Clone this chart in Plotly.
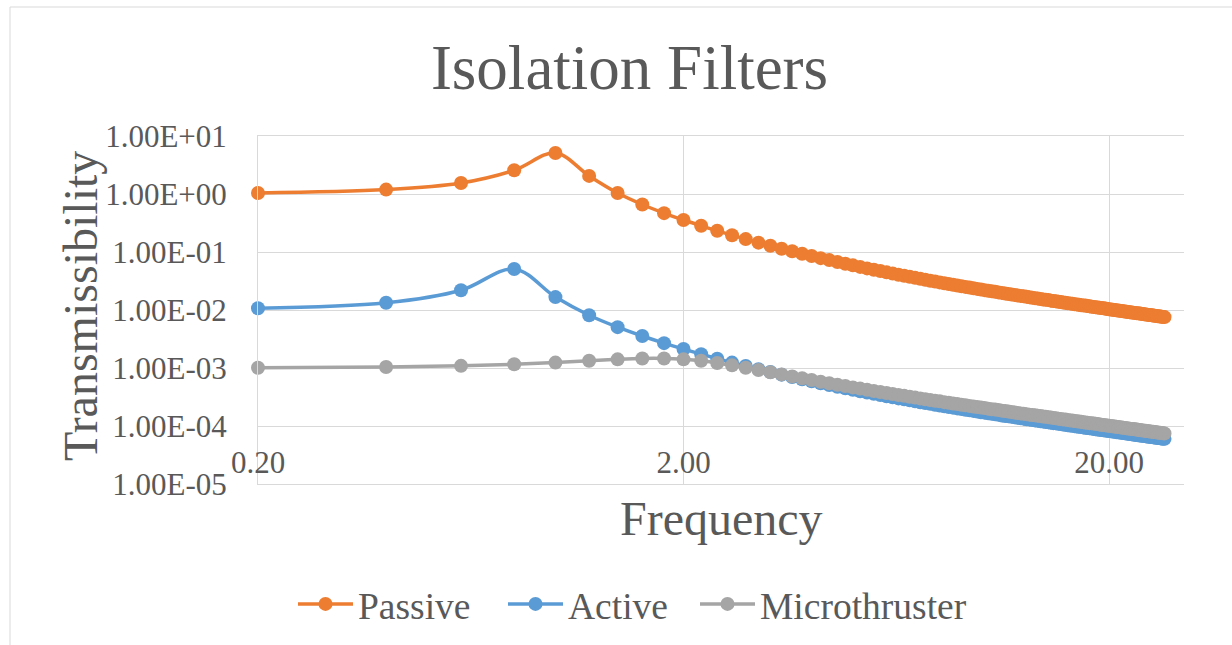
import math
import plotly.graph_objects as go

# Frequency samples (Hz), 0.2 Hz steps
frequency = [
    0.2, 0.4, 0.6, 0.8, 1.0, 1.2, 1.4, 1.6, 1.8, 2.0,
    2.2, 2.4, 2.6, 2.8, 3.0, 3.2, 3.4, 3.6, 3.8, 4.0,
    4.2, 4.4, 4.6, 4.8, 5.0, 5.2, 5.4, 5.6, 5.8, 6.0,
    6.2, 6.4, 6.6, 6.8, 7.0, 7.2, 7.4, 7.6, 7.8, 8.0,
    8.2, 8.4, 8.6, 8.8, 9.0, 9.2, 9.4, 9.6, 9.8, 10.0,
    10.2, 10.4, 10.6, 10.8, 11.0, 11.2, 11.4, 11.6, 11.8, 12.0,
    12.2, 12.4, 12.6, 12.8, 13.0, 13.2, 13.4, 13.6, 13.8, 14.0,
    14.2, 14.4, 14.6, 14.8, 15.0, 15.2, 15.4, 15.6, 15.8, 16.0,
    16.2, 16.4, 16.6, 16.8, 17.0, 17.2, 17.4, 17.6, 17.8, 18.0,
    18.2, 18.4, 18.6, 18.8, 19.0, 19.2, 19.4, 19.6, 19.8, 20.0,
    20.2, 20.4, 20.6, 20.8, 21.0, 21.2, 21.4, 21.6, 21.8, 22.0,
    22.2, 22.4, 22.6, 22.8, 23.0, 23.2, 23.4, 23.6, 23.8, 24.0,
    24.2, 24.4, 24.6, 24.8, 25.0, 25.2, 25.4, 25.6, 25.8, 26.0,
    26.2, 26.4, 26.6, 26.8, 27.0,
]

passive = [
    1.04, 1.19, 1.55, 2.57, 5.10, 2.05, 1.04, 0.659, 0.468, 0.356,
    0.283, 0.232, 0.195, 0.167, 0.145, 0.128, 0.114, 0.103, 0.0933, 0.0853,
    0.0784, 0.0725, 0.0673, 0.0628, 0.0589, 0.0554, 0.0522, 0.0494, 0.0469, 0.0446,
    0.0425, 0.0406, 0.0389, 0.0373, 0.0358, 0.0345, 0.0332, 0.0320, 0.0310, 0.0299,
    0.0290, 0.0281, 0.0273, 0.0265, 0.0257, 0.0250, 0.0244, 0.0237, 0.0231, 0.0226,
    0.0220, 0.0215, 0.0210, 0.0206, 0.0201, 0.0197, 0.0193, 0.0189, 0.0185, 0.0182,
    0.0178, 0.0175, 0.0172, 0.0169, 0.0166, 0.0163, 0.0160, 0.0158, 0.0155, 0.0152,
    0.0150, 0.0148, 0.0145, 0.0143, 0.0141, 0.0139, 0.0137, 0.0135, 0.0133, 0.0131,
    0.0130, 0.0128, 0.0126, 0.0125, 0.0123, 0.0121, 0.0120, 0.0119, 0.0117, 0.0116,
    0.0114, 0.0113, 0.0112, 0.0110, 0.0109, 0.0108, 0.0107, 0.0106, 0.0104, 0.0103,
    0.0102, 0.0101, 0.0100, 0.00991, 0.00981, 0.00971, 0.00962, 0.00952, 0.00943, 0.00934,
    0.00925, 0.00917, 0.00908, 0.00900, 0.00892, 0.00883, 0.00876, 0.00868, 0.00860, 0.00853,
    0.00845, 0.00838, 0.00831, 0.00824, 0.00817, 0.00810, 0.00804, 0.00797, 0.00791, 0.00784,
    0.00778, 0.00772, 0.00766, 0.00760, 0.00754,
]

active = [
    0.0107, 0.0133, 0.0219, 0.0510, 0.0167, 0.00812, 0.00506, 0.00356, 0.00268, 0.00212,
    0.00173, 0.00145, 0.00124, 0.00108, 0.000955, 0.000853, 0.000768, 0.000698, 0.000639, 0.000589,
    0.000545, 0.000508, 0.000475, 0.000446, 0.000420, 0.000397, 0.000377, 0.000358, 0.000341, 0.000326,
    0.000312, 0.000299, 0.000288, 0.000277, 0.000267, 0.000257, 0.000249, 0.000241, 0.000233, 0.000226,
    0.000219, 0.000213, 0.000207, 0.000201, 0.000196, 0.000191, 0.000186, 0.000182, 0.000178, 0.000173,
    0.000170, 0.000166, 0.000162, 0.000159, 0.000156, 0.000152, 0.000149, 0.000147, 0.000144, 0.000141,
    0.000139, 0.000136, 0.000134, 0.000131, 0.000129, 0.000127, 0.000125, 0.000123, 0.000121, 0.000119,
    0.000117, 0.000116, 0.000114, 0.000112, 0.000111, 0.000109, 0.000108, 0.000106, 0.000105, 0.000103,
    0.000102, 0.000101, 9.94e-5, 9.81e-5, 9.69e-5, 9.57e-5, 9.45e-5, 9.34e-5, 9.23e-5, 9.12e-5,
    9.02e-5, 8.92e-5, 8.81e-5, 8.72e-5, 8.62e-5, 8.53e-5, 8.44e-5, 8.35e-5, 8.26e-5, 8.17e-5,
    8.09e-5, 8.00e-5, 7.92e-5, 7.84e-5, 7.77e-5, 7.69e-5, 7.62e-5, 7.54e-5, 7.47e-5, 7.40e-5,
    7.33e-5, 7.26e-5, 7.20e-5, 7.13e-5, 7.07e-5, 7.01e-5, 6.94e-5, 6.88e-5, 6.82e-5, 6.77e-5,
    6.71e-5, 6.65e-5, 6.60e-5, 6.54e-5, 6.49e-5, 6.44e-5, 6.38e-5, 6.33e-5, 6.28e-5, 6.23e-5,
    6.18e-5, 6.14e-5, 6.09e-5, 6.04e-5, 6.00e-5,
]

microthruster = [
    0.00101, 0.00104, 0.00109, 0.00116, 0.00124, 0.00133, 0.00141, 0.00146, 0.00146, 0.00141,
    0.00133, 0.00122, 0.00111, 0.00101, 0.000923, 0.000844, 0.000776, 0.000717, 0.000665, 0.000620,
    0.000581, 0.000546, 0.000515, 0.000488, 0.000463, 0.000441, 0.000421, 0.000402, 0.000386, 0.000370,
    0.000356, 0.000343, 0.000331, 0.000319, 0.000309, 0.000299, 0.000290, 0.000281, 0.000273, 0.000266,
    0.000258, 0.000252, 0.000245, 0.000239, 0.000233, 0.000228, 0.000222, 0.000217, 0.000213, 0.000208,
    0.000204, 0.000199, 0.000195, 0.000192, 0.000188, 0.000184, 0.000181, 0.000178, 0.000174, 0.000171,
    0.000168, 0.000165, 0.000163, 0.000160, 0.000157, 0.000155, 0.000153, 0.000150, 0.000148, 0.000146,
    0.000144, 0.000142, 0.000140, 0.000138, 0.000136, 0.000134, 0.000132, 0.000130, 0.000129, 0.000127,
    0.000125, 0.000124, 0.000122, 0.000121, 0.000119, 0.000118, 0.000116, 0.000115, 0.000114, 0.000112,
    0.000111, 0.000110, 0.000109, 0.000108, 0.000106, 0.000105, 0.000104, 0.000103, 0.000102, 0.000101,
    0.000100, 9.90e-5, 9.80e-5, 9.70e-5, 9.61e-5, 9.52e-5, 9.43e-5, 9.34e-5, 9.25e-5, 9.17e-5,
    9.08e-5, 9.00e-5, 8.92e-5, 8.84e-5, 8.76e-5, 8.68e-5, 8.61e-5, 8.54e-5, 8.46e-5, 8.39e-5,
    8.32e-5, 8.25e-5, 8.18e-5, 8.12e-5, 8.05e-5, 7.99e-5, 7.92e-5, 7.86e-5, 7.80e-5, 7.74e-5,
    7.68e-5, 7.62e-5, 7.56e-5, 7.50e-5, 7.45e-5,
]

y_tick_values = [1e-5, 1e-4, 1e-3, 1e-2, 1e-1, 1e0, 1e1]
y_tick_labels = ["1.00E-05", "1.00E-04", "1.00E-03", "1.00E-02",
                 "1.00E-01", "1.00E+00", "1.00E+01"]
x_tick_values = [0.2, 2, 20]
x_tick_labels = ["0.20", "2.00", "20.00"]

series_names = ["Passive", "Active", "Microthruster"]
series_values = [passive, active, microthruster]
series_colors = ["#ED7D31", "#5B9BD5", "#A5A5A5"]

FONT = "Liberation Serif"
TEXT = "#595959"
GRID = "#D9D9D9"

W, H = 1232, 645
L, R, T, B = 258, 48, 136, 161
plot_w = W - L - R
plot_h = H - T - B

# one single-entry legend per series, so each entry sits at its own x
legend_ids = ["legend", "legend2", "legend3"]
legend_left_px = [293, 503, 695]
LEGEND_ITEM_W = 55


def px_x(px):
    return (px - L) / plot_w


def px_y(py):
    return (H - B - py) / plot_h


fig = go.Figure()
for name, vals, color, leg in zip(series_names, series_values, series_colors, legend_ids):
    fig.add_trace(go.Scatter(
        x=frequency, y=vals, name=name, mode="lines+markers",
        line=dict(color=color, width=3.5, shape="spline"),
        marker=dict(color=color, size=14),
        cliponaxis=False,
        legend=leg,
    ))

axis_font = dict(family=FONT, size=31, color=TEXT)


def legend_box(left_px):
    return dict(
        orientation="h",
        x=left_px / W, xref="container", xanchor="left",
        y=1 - 604 / H, yref="container", yanchor="middle",
        font=dict(family=FONT, size=37.5, color=TEXT),
        itemwidth=LEGEND_ITEM_W,
        bgcolor="rgba(0,0,0,0)",
    )


fig.update_layout(
    width=W, height=H, autosize=False,
    margin=dict(l=L, r=R, t=T, b=B),
    paper_bgcolor="white", plot_bgcolor="white",
    font=dict(family=FONT, color=TEXT),
    title=dict(
        text="Isolation Filters",
        font=dict(family=FONT, size=63, color=TEXT),
        x=629.5 / W, xref="container", xanchor="center",
        y=1 - 67 / H, yref="container", yanchor="middle",
    ),
    xaxis=dict(
        type="log",
        range=[math.log10(0.2), math.log10(30)],
        tickvals=x_tick_values, ticktext=x_tick_labels,
        showgrid=True, gridcolor=GRID, gridwidth=1,
        showline=True, linecolor=GRID, linewidth=1, mirror=True,
        zeroline=False, ticks="",
        ticklabelposition="inside", ticklabeloverflow="allow",
        ticklabelstandoff=8,
        tickfont=axis_font,
    ),
    yaxis=dict(
        type="log",
        range=[-5, 1],
        tickvals=y_tick_values, ticktext=y_tick_labels,
        showgrid=True, gridcolor=GRID, gridwidth=1,
        showline=True, linecolor=GRID, linewidth=1, mirror=False,
        zeroline=False, ticks="", ticklabelstandoff=24,
        tickfont=axis_font,
    ),
    showlegend=True,
)
fig.update_layout({leg: legend_box(px) for leg, px in zip(legend_ids, legend_left_px)})

# Axis titles
fig.add_annotation(
    text="Frequency", xref="paper", yref="paper",
    x=0.5, y=px_y(518), xanchor="center", yanchor="middle",
    showarrow=False, font=dict(family=FONT, size=48, color=TEXT),
)
fig.add_annotation(
    text="Transmissibility", xref="paper", yref="paper",
    x=px_x(80), y=px_y(306), xanchor="center", yanchor="middle",
    textangle=-90, showarrow=False,
    font=dict(family=FONT, size=48, color=TEXT),
)

# Chart-area border
fig.add_shape(
    type="rect", xref="paper", yref="paper",
    x0=px_x(10), x1=px_x(1260), y0=px_y(680), y1=px_y(7),
    line=dict(color=GRID, width=1), fillcolor="rgba(0,0,0,0)", layer="below",
)

fig.write_html("out.html")
